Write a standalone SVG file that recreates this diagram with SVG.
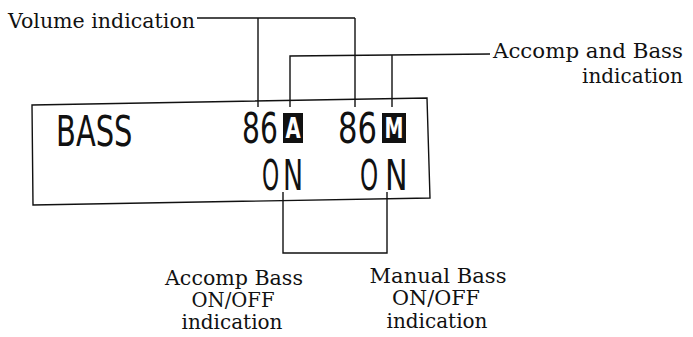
<svg xmlns="http://www.w3.org/2000/svg" width="693" height="337" viewBox="0 0 693 337">
<style>
.lbl{font-family:"DejaVu Serif","Liberation Serif",serif;font-size:20px;fill:#111}
.lcd{font-family:"DejaVu Sans","Liberation Sans",sans-serif;font-size:42px;fill:#111}
.inv{font-family:"DejaVu Sans","Liberation Sans",sans-serif;font-size:28px;font-weight:bold;fill:#fff}
.ln{fill:none;stroke:#111;stroke-width:1.4}
</style>
<rect width="693" height="337" fill="#fff"/>
<g id="display">
<path class="ln" d="M32,105 L427,98 L430,198 L33,205 Z" stroke-width="1.6"/>
<text class="lcd" transform="translate(56,146) scale(0.69,1)">BASS</text>
<text class="lcd" transform="translate(242,143) scale(0.67,1)">86</text>
<rect x="283" y="113" width="20" height="30" fill="#111"/>
<text class="inv" text-anchor="middle" transform="translate(293,138) scale(0.7,1)">A</text>
<text class="lcd" transform="translate(338,143) scale(0.73,1)">86</text>
<rect x="382" y="113" width="24" height="30" fill="#111"/>
<text class="inv" text-anchor="middle" transform="translate(394,138) scale(0.68,1)">M</text>
<text class="lcd" transform="translate(262,190) scale(0.52,1)">O</text>
<text class="lcd" transform="translate(283,190) scale(0.64,1)">N</text>
<text class="lcd" transform="translate(360,190) scale(0.55,1)">O</text>
<text class="lcd" transform="translate(385,190) scale(0.72,1)">N</text>
</g>
<g id="volume-label">
<text class="lbl" x="8" y="28" textLength="187" lengthAdjust="spacingAndGlyphs">Volume indication</text>
</g>
<g id="accomp-and-bass-label">
<text class="lbl" x="493" y="58" textLength="190" lengthAdjust="spacingAndGlyphs">Accomp and Bass</text>
<text class="lbl" x="683" y="83" text-anchor="end">indication</text>
</g>
<g id="accomp-bass-label">
<text class="lbl" x="234" y="285" text-anchor="middle" textLength="138" lengthAdjust="spacingAndGlyphs">Accomp Bass</text>
<text class="lbl" x="233" y="307" text-anchor="middle" textLength="83" lengthAdjust="spacingAndGlyphs">ON/OFF</text>
<text class="lbl" x="232" y="329" text-anchor="middle">indication</text>
</g>
<g id="manual-bass-label">
<text class="lbl" x="438" y="283" text-anchor="middle" textLength="137" lengthAdjust="spacingAndGlyphs">Manual Bass</text>
<text class="lbl" x="436" y="305" text-anchor="middle" textLength="88" lengthAdjust="spacingAndGlyphs">ON/OFF</text>
<text class="lbl" x="437" y="328" text-anchor="middle">indication</text>
</g>
<g id="connectors">
<path class="ln" d="M197,18 L355,18 M258,18 L258,107 M355,18 L355,107"/>
<path class="ln" d="M290,107 L290,56 L490,54 M392,55 L392,107"/>
<path class="ln" d="M283,192 L283,253 L387,253 L387,192"/>
</g>
</svg>
